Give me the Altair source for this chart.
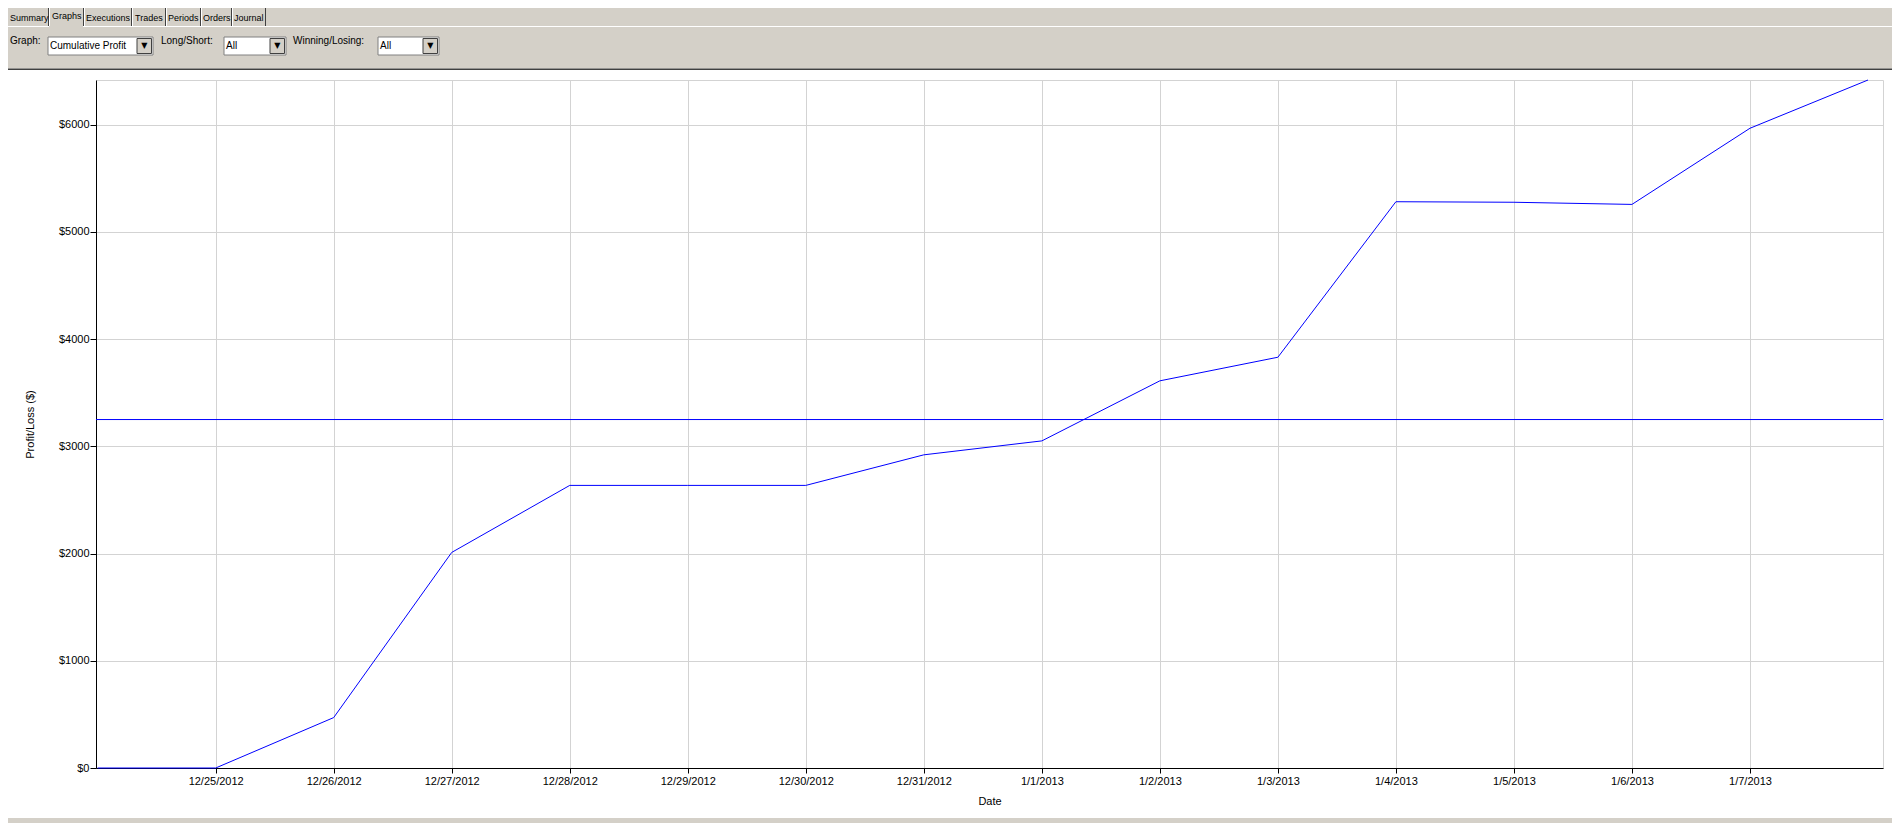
import altair as alt
import pandas as pd

# ---------------- data ----------------
dates = ["2012-12-24", "2012-12-25", "2012-12-26", "2012-12-27", "2012-12-28",
         "2012-12-29", "2012-12-30", "2012-12-31", "2013-01-01", "2013-01-02",
         "2013-01-03", "2013-01-04", "2013-01-05", "2013-01-06", "2013-01-07",
         "2013-01-08"]
profit = [0, 0, 470, 2010, 2635, 2635, 2635, 2920, 3050, 3610, 3830,
          5280, 5275, 5255, 5965, 6415]
tick_dates = ["2012-12-25", "2012-12-26", "2012-12-27", "2012-12-28", "2012-12-29",
              "2012-12-30", "2012-12-31", "2013-01-01", "2013-01-02", "2013-01-03",
              "2013-01-04", "2013-01-05", "2013-01-06", "2013-01-07"]
y_ticks = [0, 1000, 2000, 3000, 4000, 5000, 6000]
x_title = "Date"
y_title = "Profit/Loss ($)"
tabs = ["Summary", "Graphs", "Executions", "Trades", "Periods", "Orders", "Journal"]
filter_labels = ["Graph:", "Long/Short:", "Winning/Losing:"]
filter_values = ["Cumulative Profit", "All", "All"]

df = pd.DataFrame({"date": dates, "profit": profit})


def dt(s, h=0, m=0):
    t = pd.Timestamp(s)
    return alt.DateTime(year=t.year, month=t.month, date=t.day, hours=h, minutes=m, utc=True)


# ---------------- layout ----------------
OX, OY = 96, 80          # page position of the plot origin
W, H = 1787, 688
UI_FONT = "Liberation Sans"
GRAY = "#d4d0c8"
ONE = alt.Data(values=[{"k": 1}])


def rect(x1, y1, x2, y2, fill, stroke=None):
    kw = dict(fill=fill)
    if stroke:
        kw.update(stroke=stroke, strokeWidth=1)
    return alt.Chart(ONE).mark_rect(**kw).encode(
        x=alt.value(x1 - OX), x2=alt.value(x2 - OX),
        y=alt.value(y1 - OY), y2=alt.value(y2 - OY))


def text(s, x, y, size=10, font=UI_FONT, align="left"):
    return alt.Chart(ONE).mark_text(
        text=s, align=align, baseline="middle", font=font, fontSize=size, color="black"
    ).encode(x=alt.value(x - OX), y=alt.value(y - OY))


deco = []
# grey window chrome
deco.append(rect(0, 0, 1901, 68.5, GRAY))
deco.append(rect(0, 818, 1901, 840, GRAY))
deco.append(rect(0, 68.5, 1901, 70, "#404040"))
# tab geometry
tab_left = [8, 49, 84, 132, 166, 201, 232]
tab_right = [48, 83, 131, 165, 200, 231, 265]
tab_x = [10, 52, 86, 135, 168, 203, 234]
# line under tabs (gap under the selected tab)
deco.append(rect(0, 26, tab_left[1], 27, "white"))
deco.append(rect(tab_right[1], 26, 1901, 27, "white"))
for i, (lbl, tx) in enumerate(zip(tabs, tab_x)):
    top = 2 if i == 1 else 5
    if i > 0:
        deco.append(rect(tab_left[i], top, tab_left[i] + 1, 26, "white"))
    deco.append(rect(tab_right[i], top, tab_right[i] + 1, 26, "#404040"))
    if i == 1:
        deco.append(rect(tab_left[i] + 1, 2, tab_right[i], 3, "white"))
    deco.append(text(lbl, tx, 15.5 if i == 1 else 17.5, size=9))

# filter row
lab_x = [10, 161, 293]
box = [(48, 153), (224, 286), (378, 439)]
for lbl, val, lx, (b1, b2) in zip(filter_labels, filter_values, lab_x, box):
    deco.append(text(lbl, lx, 41))
    deco.append(rect(b1, 37, b2, 55, "white", "#808080"))
    deco.append(rect(b2 - 16, 38.5, b2 - 1.5, 53.5, GRAY, "#404040"))
    deco.append(text("▼", b2 - 8.75, 46, size=8, font="DejaVu Sans", align="center"))
    deco.append(text(val, b1 + 2, 46))

# ---------------- chart ----------------
x_enc = alt.X(
    "date:T",
    scale=alt.Scale(type="utc", domain=[dt("2012-12-23", 23, 40), dt("2013-01-08", 3, 3)]),
    axis=alt.Axis(title=x_title, values=[dt(d) for d in tick_dates], format="%-m/%-d/%Y",
                  labelFlush=False, labelOverlap=False, tickSize=5, labelPadding=2,
                  titlePadding=9),
)
y_axis = alt.Axis(title=y_title, values=y_ticks, labelExpr="'$' + datum.value",
                  tickSize=6, labelPadding=1, titlePadding=23)
y_scale = alt.Scale(domain=[0, max(profit)], nice=False)

line = alt.Chart(df).mark_line(color="#0000ff", strokeWidth=1).encode(
    x=x_enc, y=alt.Y("profit:Q", scale=y_scale, axis=y_axis))
mean_rule = alt.Chart(df).mark_rule(color="#0000ff", strokeWidth=1).encode(
    y=alt.Y("mean(profit):Q", title=y_title))

chart = alt.layer(*deco, line, mean_rule).properties(
    width=W, height=H,
    autosize=alt.AutoSizeParams(type="none"),
    padding={"left": OX - 8, "top": OY - 8, "right": 9, "bottom": 55},
    background="white",
).configure_axis(
    labelFont="Liberation Sans", labelFontSize=11, labelColor="black",
    titleFont="Liberation Sans", titleFontSize=11, titleFontWeight="normal",
    titleColor="black", tickColor="black", domainColor="black",
    gridColor="#d3d3d3", gridWidth=1, domainWidth=1, tickWidth=1,
).configure_view(stroke="#d3d3d3", strokeWidth=1)

chart.save("out.html", embed_options={"renderer": "svg", "actions": False})
